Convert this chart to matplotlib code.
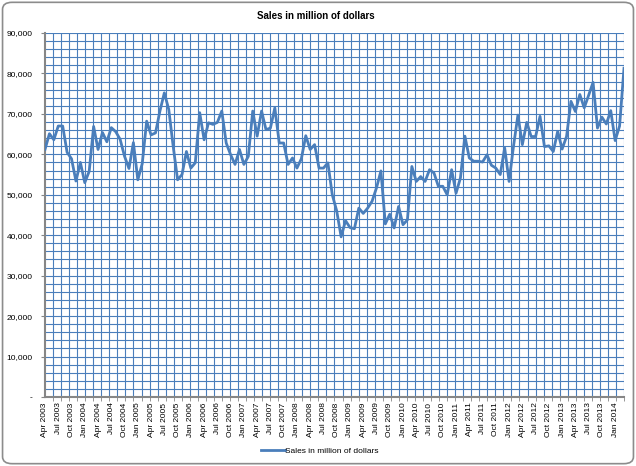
import numpy as np
import pandas as pd
import matplotlib
matplotlib.use("Agg")
import matplotlib.pyplot as plt
from matplotlib.patches import FancyBboxPatch
from matplotlib.ticker import FixedLocator, MultipleLocator, FuncFormatter

# Monthly sales (thousands of millions of dollars), Apr 2003 .. Mar 2014
sales_k = [
    61.2, 65.1, 63.6, 67.0, 67.0, 60.5, 58.9, 53.4, 58.0, 53.0, 55.8, 66.9,
    61.2, 65.4, 63.1, 66.6, 65.6, 63.7, 59.5, 56.5, 62.9, 53.7, 57.7, 68.2,
    64.8, 65.3, 70.7, 75.2, 71.1, 62.0, 53.7, 55.0, 60.7, 56.6, 57.9, 70.3,
    63.6, 67.8, 67.4, 67.9, 70.7, 62.8, 59.9, 57.5, 61.2, 57.5, 59.5, 70.7,
    64.5, 70.7, 66.1, 66.5, 71.5, 62.8, 62.8, 57.5, 59.1, 56.6, 58.9, 64.6,
    61.2, 62.4, 56.6, 56.6, 57.9, 50.0, 46.0, 39.6, 43.6, 41.9, 41.6, 46.7,
    45.4, 46.7, 48.4, 51.7, 55.9, 42.8, 45.2, 41.8, 47.1, 42.6, 43.8, 57.0,
    53.3, 54.5, 53.3, 56.2, 55.4, 52.1, 52.1, 50.0, 56.2, 50.4, 54.2, 64.5,
    59.1, 58.3, 58.3, 58.1, 59.9, 57.3, 56.6, 55.0, 61.6, 53.3, 62.0, 69.7,
    62.4, 67.9, 64.4, 64.4, 69.4, 61.9, 62.1, 60.7, 65.7, 61.3, 64.4, 73.1,
    70.6, 74.8, 71.5, 74.6, 77.8, 66.5, 69.2, 67.5, 70.8, 63.4, 67.0, 81.3,
]
sales = [v * 1000 for v in sales_k]
months = pd.date_range("2003-04-01", periods=len(sales), freq="MS")
label_every = 3
series_name = "Sales in million of dollars"
title = "Sales in million of dollars"

blue = "#4A7EBB"
axis_gray = "#868686"
font = "Liberation Sans"

fig = plt.figure(figsize=(6.36, 4.66), dpi=100)
ax = fig.add_axes([45 / 636, 1 - 397 / 466, 579 / 636, 364 / 466])

x = np.arange(len(sales))
ax.plot(x, sales, color=blue, linewidth=2.0, label=series_name, zorder=3)

ax.set_xlim(0, len(sales) - 1)
ax.set_ylim(0, 90000)

# y axis: major every 10k, grid every 2k
ax.yaxis.set_major_locator(MultipleLocator(10000))
ax.yaxis.set_minor_locator(MultipleLocator(2000))
ax.yaxis.set_major_formatter(FuncFormatter(lambda v, p: "-" if v == 0 else f"{v:,.0f}"))

# x axis: quarterly labels, evenly spread vertical grid (72 divisions like the Excel chart)
vgrid = np.linspace(0, len(sales) - 1, 73)
ax.xaxis.set_major_locator(FixedLocator(x[::label_every]))
ax.set_xticklabels([m.strftime("%b %Y") for m in months[::label_every]],
                   rotation=90, fontsize=6, family=font)
ax.xaxis.set_minor_locator(FixedLocator(vgrid))
ax.tick_params(axis="x", which="major", length=0, pad=4)
ax.tick_params(axis="x", which="minor", length=3, color=axis_gray)
ax.tick_params(axis="y", which="major", length=3, color=axis_gray, labelsize=6, pad=6)
ax.tick_params(axis="y", which="minor", length=0)
for lbl in ax.get_yticklabels():
    lbl.set_family(font)

ax.grid(True, which="both", axis="y", color=blue, linewidth=0.8)
for gx in vgrid[1:]:
    ax.axvline(gx, color=blue, linewidth=0.8, zorder=1)

for s in ("top", "right"):
    ax.spines[s].set_visible(False)
for s in ("left", "bottom"):
    ax.spines[s].set_color(axis_gray)
    ax.spines[s].set_linewidth(1.5)
ax.set_axisbelow(True)

fig.text(316 / 636, 1 - 16 / 466, title, ha="center", va="center",
         fontsize=7, fontweight="bold", family=font)

fig.legend(loc="center", bbox_to_anchor=(320 / 636, 1 - 451 / 466), frameon=False,
           prop={"family": font, "size": 6}, handlelength=2.8, handletextpad=0.1)

border = FancyBboxPatch((0.004, 0.005), 0.992, 0.99, boxstyle="round,pad=0,rounding_size=0.015",
                        transform=fig.transFigure, facecolor="none", edgecolor="#8c8c8c", linewidth=1.2)
fig.patches.append(border)

fig.savefig("out.png", dpi=100)
